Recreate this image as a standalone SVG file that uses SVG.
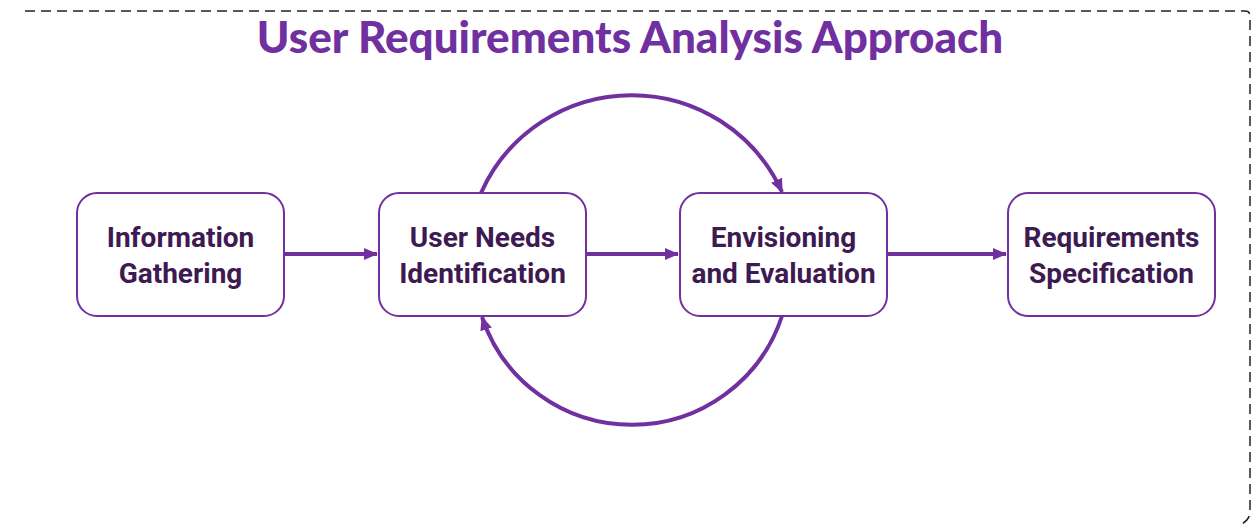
<svg xmlns="http://www.w3.org/2000/svg" width="1255" height="529" viewBox="0 0 1255 529">
<style>
.box{fill:#fff;stroke:#7030a0;stroke-width:2}
.lbl{font-family:Roboto,"Liberation Sans",sans-serif;font-weight:bold;font-size:28px;fill:#3d1a52;text-anchor:middle}
.con{fill:none;stroke:#7030a0;stroke-width:4}
.title{font-family:Lato,"Open Sans",sans-serif;font-weight:900;font-size:44px;fill:#7030a0;text-anchor:middle}
.frame{fill:none;stroke:#222;stroke-width:1.5;stroke-dasharray:10 6}
</style>
<defs>
<marker id="ah" markerUnits="userSpaceOnUse" markerWidth="16" markerHeight="14" refX="13" refY="7" orient="auto">
<path d="M0,1 L14,7 L0,13 Z" fill="#7030a0"/>
</marker>
</defs>
<g id="frame">
<path class="frame" d="M25,11 H1245 Q1250,11 1250,16 V512 Q1250,520 1240,525"/>
</g>
<text class="title" x="630" y="53">User Requirements Analysis Approach</text>
<g id="connectors">
<path class="con" d="M284,254 H377" marker-end="url(#ah)"/>
<path class="con" d="M586,254 H678" marker-end="url(#ah)"/>
<path class="con" d="M887,254 H1006" marker-end="url(#ah)"/>
<path class="con" d="M481,193 A165 165 0 0 1 782,192" marker-end="url(#ah)"/>
<path class="con" d="M782,316 A158 158 0 0 1 482,317" marker-end="url(#ah)"/>
</g>
<g id="n1">
<rect class="box" x="77" y="193" width="207" height="123" rx="20"/>
<text class="lbl" x="180.5" y="247">Information</text>
<text class="lbl" x="180.5" y="283">Gathering</text>
</g>
<g id="n2">
<rect class="box" x="379" y="193" width="207" height="123" rx="20"/>
<text class="lbl" x="482.5" y="247">User Needs</text>
<text class="lbl" x="482.5" y="283">Identification</text>
</g>
<g id="n3">
<rect class="box" x="680" y="193" width="207" height="123" rx="20"/>
<text class="lbl" x="783.5" y="247">Envisioning</text>
<text class="lbl" x="783.5" y="283">and Evaluation</text>
</g>
<g id="n4">
<rect class="box" x="1008" y="193" width="207" height="123" rx="20"/>
<text class="lbl" x="1111.5" y="247">Requirements</text>
<text class="lbl" x="1111.5" y="283">Specification</text>
</g>
</svg>
